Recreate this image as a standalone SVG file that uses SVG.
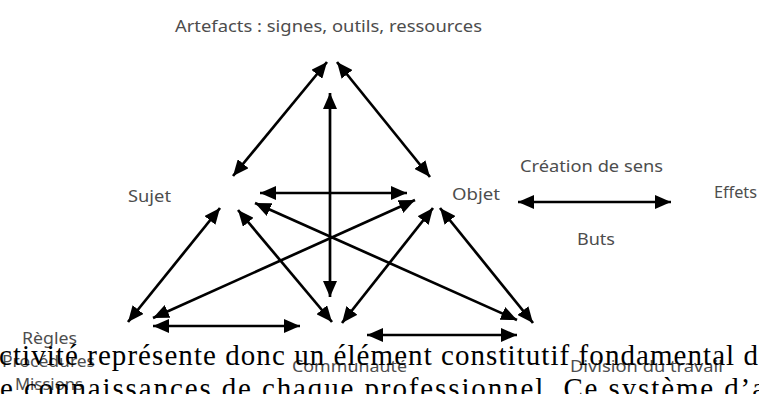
<svg xmlns="http://www.w3.org/2000/svg" width="759" height="394" viewBox="0 0 759 394">
<style>
.lbl{font-family:"Noto Sans","Open Sans",sans-serif;font-size:17px;fill:#4d4d4d;}
.doc{font-family:"Liberation Serif","Times New Roman",serif;font-size:29px;fill:#000;}
.arr{stroke:#000;stroke-width:2.7;fill:none;marker-start:url(#ah);marker-end:url(#ah);}
</style>
<defs>
<marker id="ah" viewBox="0 0 16 14" markerUnits="userSpaceOnUse" markerWidth="16" markerHeight="14" refX="16" refY="7" orient="auto-start-reverse">
<path d="M0,0 L16,7 L0,14 z" fill="#000"/>
</marker>
</defs>
<rect width="759" height="394" fill="#fff"/>
<g id="connectors">
<line class="arr" x1="327" y1="62" x2="233" y2="176"/>
<line class="arr" x1="337" y1="62" x2="430" y2="177"/>
<line class="arr" x1="330" y1="93" x2="330" y2="297"/>
<line class="arr" x1="260" y1="193" x2="407" y2="193"/>
<line class="arr" x1="220" y1="208" x2="128" y2="322"/>
<line class="arr" x1="153" y1="318" x2="415" y2="200"/>
<line class="arr" x1="238" y1="210" x2="332" y2="322"/>
<line class="arr" x1="255" y1="203" x2="517" y2="320"/>
<line class="arr" x1="433" y1="208" x2="342" y2="323"/>
<line class="arr" x1="440" y1="208" x2="533" y2="323"/>
<line class="arr" x1="153" y1="326" x2="300" y2="326"/>
<line class="arr" x1="367" y1="335" x2="517" y2="335"/>
<line class="arr" x1="518" y1="202" x2="671" y2="202"/>
</g>
<g id="artefacts"><text class="lbl" x="175" y="32" textLength="307" lengthAdjust="spacingAndGlyphs">Artefacts : signes, outils, ressources</text></g>
<g id="sujet"><text class="lbl" x="128" y="202" textLength="43" lengthAdjust="spacingAndGlyphs">Sujet</text></g>
<g id="objet"><text class="lbl" x="452" y="200" textLength="48" lengthAdjust="spacingAndGlyphs">Objet</text></g>
<g id="creation"><text class="lbl" x="520" y="172" textLength="143" lengthAdjust="spacingAndGlyphs">Création de sens</text></g>
<g id="buts"><text class="lbl" x="577" y="245" textLength="38" lengthAdjust="spacingAndGlyphs">Buts</text></g>
<g id="effets"><text class="lbl" x="714" y="198" textLength="43" lengthAdjust="spacingAndGlyphs">Effets</text></g>
<g id="regles">
<text class="lbl" x="22" y="344" textLength="55" lengthAdjust="spacingAndGlyphs">Règles</text>
<text class="lbl" x="2" y="367" textLength="93" lengthAdjust="spacingAndGlyphs">Procédures</text>
<text class="lbl" x="15" y="390" textLength="68" lengthAdjust="spacingAndGlyphs">Missions</text>
</g>
<g id="communaute"><text class="lbl" x="292" y="372" textLength="115" lengthAdjust="spacingAndGlyphs">Communauté</text></g>
<g id="division"><text class="lbl" x="570" y="372" textLength="153" lengthAdjust="spacingAndGlyphs">Division du travail</text></g>
<g id="document">
<text class="doc" x="-1" y="365" textLength="759" lengthAdjust="spacing">ctivité représente donc un élément constitutif fondamental d</text>
<text class="doc" x="0" y="398" textLength="765" lengthAdjust="spacing">e connaissances de chaque professionnel. Ce système d’a</text>
</g>
</svg>
